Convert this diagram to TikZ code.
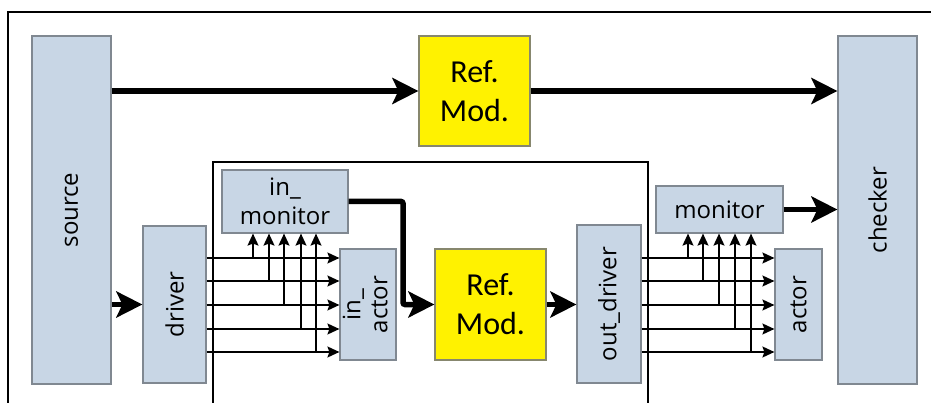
\documentclass[tikz,border=0pt]{standalone}
\usepackage{fontspec}
\setmainfont{Open Sans}
\newfontfamily\refmodfont{Carlito}
\usetikzlibrary{arrows.meta}
\definecolor{blockfill}{RGB}{200,214,229}
\definecolor{blockedge}{RGB}{128,136,145}
\definecolor{refedge}{RGB}{135,135,110}

\begin{document}
\begin{tikzpicture}[x=1pt,y=-1pt,
  blk/.style={draw=blockedge, fill=blockfill, line width=1.2pt, inner sep=0pt,
    align=center, font=\fontsize{24}{29}\selectfont},
  refm/.style={draw=refedge, fill=yellow, line width=1.2pt, inner sep=0pt,
    align=center, font=\refmodfont\fontsize{32}{39}\selectfont},
  frame/.style={line width=1.8pt},
  bus/.style={line width=1.6pt, -{Stealth[length=12pt,width=11pt,inset=2pt]}},
  flow/.style={line width=5.5pt, -{Stealth[length=26pt,width=26pt,inset=6pt]}},
]
\useasboundingbox (0,0) rectangle (931,403);

% environment frames
\draw[frame] (8,403) -- (8,12) -- (931,12);
\draw[frame] (213,403) -- (213,162) -- (648,162) -- (648,403);

% blocks
\node[blk, minimum width=79pt, minimum height=348pt] (src) at (71.5,210) {\rotatebox{90}{source}};
\node[blk, minimum width=79pt, minimum height=348pt] (chk) at (877.5,210) {\rotatebox{90}{checker}};
\node[refm, minimum width=111pt, minimum height=110pt] (ref1) at (474.5,91) {Ref.\\Mod.};
\node[blk, minimum width=63pt, minimum height=157pt] (drv) at (174.5,304.5) {\rotatebox{90}{driver}};
\node[blk, minimum width=126pt, minimum height=63pt] (inmon) at (285,201.5) {in\_\\monitor};
\node[blk, minimum width=56pt, minimum height=111pt] (inact) at (368,304.5)
  {\rotatebox{90}{\begin{tabular}{@{}c@{}}in\_\\[-2pt]actor\end{tabular}}};
\node[refm, minimum width=111pt, minimum height=111pt] (ref2) at (490.5,304.5) {Ref.\\Mod.};
\node[blk, minimum width=64pt, minimum height=158pt] (odrv) at (609,304) {\rotatebox{90}{out\_driver}};
\node[blk, minimum width=127pt, minimum height=47pt] (mon) at (719.5,209.5) {monitor};
\node[blk, minimum width=47pt, minimum height=111pt] (act) at (798.5,304.5) {\rotatebox{90}{actor}};

% signal rows
\foreach \y [count=\i] in {258,281,305,329,352} \coordinate (row\i) at (0,\y);

% driver -> in_actor, tapped by in_monitor
\foreach \i/\x in {1/253,2/269,3/284,4/301,5/316} {
  \coordinate (tapL\i) at (\x,0);
  \draw[bus] (drv.east |- row\i) -- (inact.west |- row\i);
  \draw[bus] (tapL\i |- row\i) -- (tapL\i |- inmon.south);
}

% out_driver -> actor, tapped by monitor
\foreach \i/\x in {1/688,2/703,3/719,4/735,5/751} {
  \coordinate (tapR\i) at (\x,0);
  \draw[bus] (odrv.east |- row\i) -- (act.west |- row\i);
  \draw[bus] (tapR\i |- row\i) -- (tapR\i |- mon.south);
}

% main data flow
\coordinate (bend) at (403,0);
\draw[flow] (src.east |- ref1.west) -- (ref1.west);
\draw[flow] (ref1.east) -- (chk.west |- ref1.east);
\draw[flow] (src.east |- drv.west) -- (drv.west);
\draw[flow, rounded corners=2pt] (inmon.east) -- (bend |- inmon.east) -- (bend |- ref2.west) -- (ref2.west);
\draw[flow] (ref2.east) -- (odrv.west |- ref2.east);
\draw[flow] (mon.east) -- (chk.west |- mon.east);
\end{tikzpicture}
\end{document}
